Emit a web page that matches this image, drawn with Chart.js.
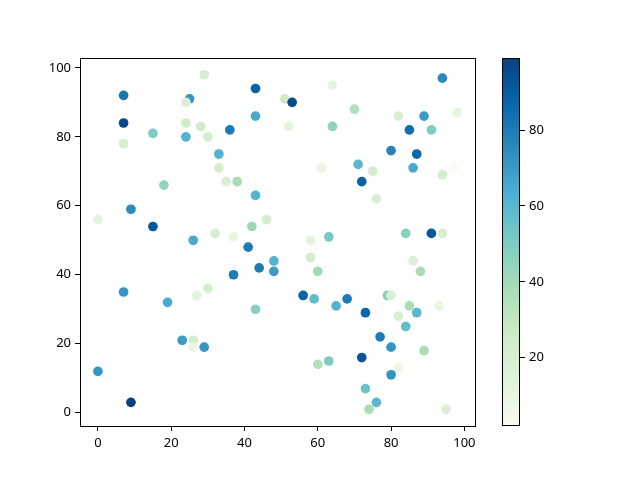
<!DOCTYPE html>
<html><head><meta charset="utf-8">
<script src="https://cdn.jsdelivr.net/npm/chart.js@4/dist/chart.umd.min.js"></script>
<style>
html,body{margin:0;padding:0;background:#fff;}
#wrap{position:relative;width:640px;height:480px;}
canvas{position:absolute;left:0;top:0;}
</style>
</head><body>
<div id="wrap"><canvas id="main" width="640" height="480"></canvas><canvas id="cbar" width="640" height="480"></canvas></div>
<script>
const xValues = [29,7,25,24,7,15,24,28,24,30,7,33,33,18,64,43,51,53,43,36,52,64,61,35,38,94,70,82,98,89,85,91,80,87,71,75,86,97,94,72,9,0,15,26,32,7,30,27,19,43,37,42,46,41,48,44,48,37,58,63,58,60,56,59,68,65,76,84,91,94,86,88,79,80,23,26,26,29,0,9,43,60,63,85,93,73,82,87,84,77,80,89,72,82,80,73,76,74,95];
const yValues = [98,92,91,90,84,81,84,83,80,80,78,75,71,66,95,94,91,90,86,82,83,83,71,67,67,97,88,86,87,86,82,82,76,75,72,70,71,71,69,67,59,56,54,50,52,35,36,34,32,63,51,54,56,48,44,42,41,40,50,51,45,41,34,33,33,31,62,52,52,52,44,41,34,34,21,21,19,19,12,3,30,14,15,31,31,29,28,29,25,22,19,18,16,13,11,7,3,1,1];
const cValues = [20,82,72,18,97,50,25,25,62,22,20,62,22,45,12,88,25,96,65,80,12,45,10,18,38,75,35,20,12,70,85,50,78,87,60,22,65,2,22,88,75,12,92,65,20,72,22,12,65,62,10,42,22,80,62,80,70,80,12,52,22,40,88,58,80,62,20,48,92,20,18,38,48,18,70,22,8,72,72,99,48,35,50,38,10,87,20,60,57,80,72,38,92,8,72,55,60,38,18];
const xTicks = [0,20,40,60,80,100];
const yTicks = [0,20,40,60,80,100];
const cTicks = [20,40,60,80];
const xMin = -4.9, xMax = 102.9, yMin = -3.85, yMax = 102.85;
const cMin = 2, cMax = 99;

const gnbu = ['#f7fcf0','#e0f3db','#ccebc5','#a8ddb5','#7bccc4','#4eb3d3','#2b8cbe','#0868ac','#084081'];
function hex(h){return [parseInt(h.substr(1,2),16),parseInt(h.substr(3,2),16),parseInt(h.substr(5,2),16)];}
function cmap(t){
  t=Math.max(0,Math.min(1,t));
  const s=t*(gnbu.length-1); const i=Math.min(gnbu.length-2,Math.floor(s)); const f=s-i;
  const a=hex(gnbu[i]), b=hex(gnbu[i+1]);
  return 'rgb('+a.map((v,k)=>Math.round(v+(b[k]-v)*f)).join(',')+')';
}
const pts = xValues.map((x,i)=>({x:x,y:yValues[i]}));
const cols = cValues.map(c=>cmap((c-cMin)/(cMax-cMin)));

Chart.defaults.font.family = "'Noto Sans', 'DejaVu Sans', sans-serif";
Chart.defaults.font.size = 13;
Chart.defaults.color = '#000';

function strokeArea(ctx,a){ctx.save();ctx.strokeStyle='#000';ctx.lineWidth=1;ctx.strokeRect(Math.round(a.left)+0.5,Math.round(a.top)+0.5,Math.round(a.right-a.left)-1,Math.round(a.bottom-a.top)-1);ctx.restore();}

const CLEAR = 'rgba(0,0,0,0)';
function edgeGrid(edgeVal){
  return {
    drawOnChartArea:true, drawTicks:true, tickLength:5, lineWidth:1, tickWidth:1,
    color: c => (c.tick && c.tick.value === edgeVal) ? '#000' : CLEAR,
    tickColor: c => (c.tick && c.tick.value === edgeVal) ? CLEAR : '#000'
  };
}
const tickGrid = {drawOnChartArea:false, drawTicks:true, tickLength:5, tickColor:'#000', tickWidth:1};

new Chart(document.getElementById('main'),{
  type:'scatter',
  data:{datasets:[{data:pts, backgroundColor:cols, pointRadius:4.85, pointHoverRadius:4.85, borderWidth:0}]},
  options:{
    responsive:false, animation:false, events:[],
    layout:{padding:{left:0,top:58,right:165,bottom:0}},
    plugins:{legend:{display:false},tooltip:{enabled:false}},
    scales:{
      x:{type:'linear',min:xMin,max:xMax,
        afterFit:s=>{s.height=54;},
        afterBuildTicks:s=>{s.ticks=xTicks.concat([xMax]).map(v=>({value:v}));},
        ticks:{padding:4,maxRotation:0,autoSkip:false,callback:v=>xTicks.includes(v)?String(v):''},
        grid:edgeGrid(xMax), border:{display:true,color:'#000',width:1}},
      y:{type:'linear',min:yMin,max:yMax,
        afterFit:s=>{s.width=80;},
        afterBuildTicks:s=>{s.ticks=yTicks.concat([yMax]).map(v=>({value:v}));},
        ticks:{padding:4,autoSkip:false,callback:v=>yTicks.includes(v)?String(v):''},
        grid:edgeGrid(yMax), border:{display:true,color:'#000',width:1}}
    }
  }
});

const gradPlugin = {id:'grad', beforeDatasetsDraw(ch){
  const a=ch.chartArea, ctx=ch.ctx, ys=ch.scales.y;
  const y0=ys.getPixelForValue(cMin), y1=ys.getPixelForValue(cMax);
  const g=ctx.createLinearGradient(0,y0,0,y1);
  gnbu.forEach((c,i)=>g.addColorStop(i/(gnbu.length-1),c));
  ctx.save(); ctx.fillStyle=g; ctx.fillRect(a.left,y1,a.right-a.left,y0-y1); ctx.restore();
  strokeArea(ctx,a);
}};

new Chart(document.getElementById('cbar'),{
  type:'scatter',
  data:{datasets:[{data:[]}]},
  options:{
    responsive:false, animation:false, events:[],
    layout:{padding:{left:502,top:58,right:60,bottom:54}},
    plugins:{legend:{display:false},tooltip:{enabled:false}},
    scales:{
      x:{type:'linear',display:false,min:0,max:1},
      y:{type:'linear',position:'right',min:cMin,max:cMax,
        afterFit:s=>{s.width=60;},
        afterBuildTicks:s=>{s.ticks=cTicks.map(v=>({value:v}));},
        ticks:{padding:4,includeBounds:false},
        grid:tickGrid, border:{display:false}}
    }
  },
  plugins:[gradPlugin]
});
</script>
</body></html>
